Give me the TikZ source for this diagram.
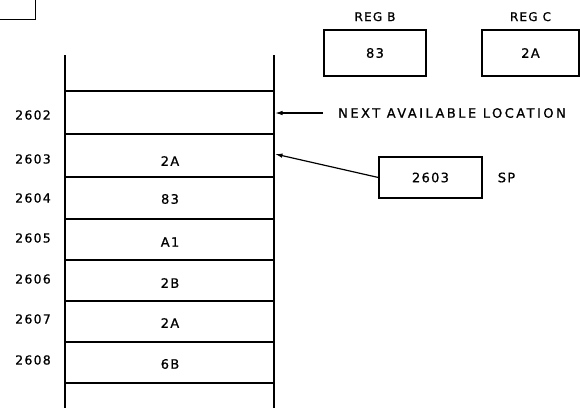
\documentclass[tikz,border=0pt]{standalone}
\usepackage{fontspec}
\setmainfont{DejaVu Sans}
\newfontfamily\stackfont[LetterSpace=10,FakeBold=0.8]{DejaVu Sans}
\newfontfamily\notefont[LetterSpace=19,FakeBold=0.8]{DejaVu Sans}
\usetikzlibrary{arrows.meta,positioning}

\begin{document}
\begin{tikzpicture}[x=1pt,y=-1pt,
  regbox/.style={draw,line width=1.2pt,minimum width=102pt,minimum height=46pt,
    inner sep=0pt,font=\stackfont\fontsize{13}{15}\selectfont},
  reglabel/.style={inner sep=0pt,font=\stackfont\fontsize{12}{14}\selectfont},
  celltext/.style={inner sep=0pt,font=\stackfont\fontsize{13}{15}\selectfont},
  addrtext/.style={inner sep=0pt,font=\stackfont\fontsize{12.5}{15}\selectfont},
  ptrarrow/.style={-{Latex[length=7.5pt,width=4.5pt]},line width=1.2pt}
]
  \useasboundingbox (0,0) rectangle (580,407);
  % Corner of a box cut off at the top left
  \draw[line width=1pt] (0,19) -- (35,19) -- (35,-1);
  % Memory stack
  \draw[line width=1.2pt] (65,55) -- (65,408) (274,55) -- (274,408);
  \foreach \y in {91,134,177,219,260,301,342,383}
    \draw[line width=1.3pt] (65,\y) -- (274,\y);
  % Addresses
  \foreach \a/\y in {2602/115,2603/159,2604/198,2605/238,2606/279,2607/319,2608/360}
    \node[addrtext] (addr\a) at (33,\y) {\a};
  % Contents
  \foreach \a/\v/\y in {2603/2A/161,2604/83/199,2605/A1/242,2606/2B/283,2607/2A/323,2608/6B/364}
    \node[celltext] (cell\a) at (170,\y) {\v};
  \coordinate (nextloc) at (275,113);
  \coordinate (sptop) at (275,154);
  % Registers
  \node[regbox] (regb) at (375,53) {83};
  \node[reglabel,above=8pt of regb] (regblabel) {REG B};
  \node[regbox,minimum width=97pt] (regc) at (530.5,53) {2A};
  \node[reglabel,above=8pt of regc] (regclabel) {REG C};
  % Stack pointer
  \node[regbox,minimum width=103pt,minimum height=41pt] (sp) at (430.5,177.5) {2603};
  \node[celltext,right=15pt of sp] (splabel) {SP};
  \draw[ptrarrow] (sp.west) -- (sptop);
  % Next free location
  \node[inner sep=0pt,anchor=west,font=\notefont\fontsize{13}{15}\selectfont] (nextlabel) at (338,113) {NEXT AVAILABLE LOCATION};
  \draw[ptrarrow] ([xshift=-15pt]nextlabel.west) -- (nextloc);
\end{tikzpicture}
\end{document}
